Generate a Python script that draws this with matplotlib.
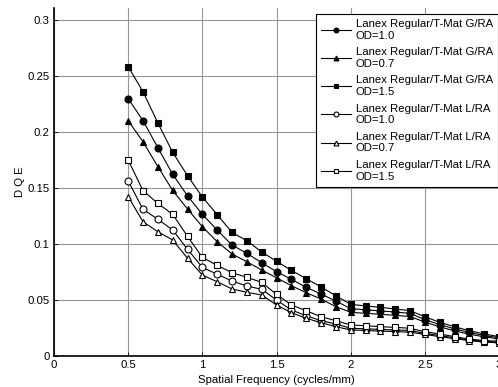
import numpy as np
import matplotlib
matplotlib.use("Agg")
import matplotlib.pyplot as plt

plt.rcParams['font.family'] = ['Liberation Sans', 'DejaVu Sans']

freq = [0.5, 0.6, 0.7, 0.8, 0.9, 1.0, 1.1, 1.2, 1.3, 1.4, 1.5, 1.6, 1.7,
        1.8, 1.9, 2.0, 2.1, 2.2, 2.3, 2.4, 2.5, 2.6, 2.7, 2.8, 2.9, 3.0]

g_od10 = [0.2295, 0.2098, 0.1857, 0.1620, 0.1427, 0.1262, 0.1122, 0.0988, 0.0914,
          0.0830, 0.0750, 0.0682, 0.0611, 0.0551, 0.0488, 0.0420, 0.0410, 0.0400,
          0.0390, 0.0378, 0.0322, 0.0278, 0.0240, 0.0208, 0.0180, 0.0160]
g_od07 = [0.2098, 0.1910, 0.1688, 0.1475, 0.1310, 0.1152, 0.1018, 0.0908, 0.0839,
          0.0765, 0.0696, 0.0625, 0.0563, 0.0506, 0.0438, 0.0388, 0.0378, 0.0370,
          0.0360, 0.0350, 0.0300, 0.0258, 0.0222, 0.0192, 0.0168, 0.0150]
g_od15 = [0.2580, 0.2357, 0.2078, 0.1816, 0.1607, 0.1417, 0.1260, 0.1100, 0.1027,
          0.0926, 0.0843, 0.0762, 0.0688, 0.0614, 0.0535, 0.0459, 0.0444, 0.0432,
          0.0417, 0.0402, 0.0348, 0.0298, 0.0259, 0.0223, 0.0194, 0.0170]
l_od10 = [0.1560, 0.1307, 0.1218, 0.1122, 0.0950, 0.0789, 0.0727, 0.0667, 0.0622,
          0.0593, 0.0497, 0.0408, 0.0357, 0.0313, 0.0283, 0.0245, 0.0240, 0.0235,
          0.0230, 0.0225, 0.0200, 0.0180, 0.0160, 0.0140, 0.0128, 0.0120]
l_od07 = [0.1420, 0.1196, 0.1107, 0.1033, 0.0870, 0.0720, 0.0660, 0.0596, 0.0566,
          0.0542, 0.0453, 0.0384, 0.0334, 0.0295, 0.0259, 0.0230, 0.0225, 0.0220,
          0.0215, 0.0210, 0.0190, 0.0170, 0.0152, 0.0135, 0.0122, 0.0115]
l_od15 = [0.1747, 0.1473, 0.1360, 0.1262, 0.1066, 0.0878, 0.0807, 0.0741, 0.0700,
          0.0655, 0.0548, 0.0453, 0.0402, 0.0348, 0.0313, 0.0274, 0.0268, 0.0259,
          0.0253, 0.0245, 0.0214, 0.0194, 0.0170, 0.0149, 0.0134, 0.0130]

labels = ["Lanex Regular/T-Mat G/RA\nOD=1.0", "Lanex Regular/T-Mat G/RA\nOD=0.7",
          "Lanex Regular/T-Mat G/RA\nOD=1.5", "Lanex Regular/T-Mat L/RA\nOD=1.0",
          "Lanex Regular/T-Mat L/RA\nOD=0.7", "Lanex Regular/T-Mat L/RA\nOD=1.5"]
series = [g_od10, g_od07, g_od15, l_od10, l_od07, l_od15]
markers = ['o', '^', 's', 'o', '^', 's']
filled = [True, True, True, False, False, False]

xticks = [0, 0.5, 1, 1.5, 2, 2.5, 3]
yticks = [0, 0.05, 0.1, 0.15, 0.2, 0.25, 0.3]

fig = plt.figure(figsize=(4.98, 3.87), dpi=100)
ax = fig.add_axes([54/498, 31.3/387, 445/498, 347.7/387])

for y, m, f, lab in zip(series, markers, filled, labels):
    ax.plot(freq, y, color='black', lw=0.8, marker=m, markersize=5,
            markerfacecolor='black' if f else 'white', markeredgecolor='black',
            markeredgewidth=0.8, label=lab)

ax.set_xlim(0, 3)
ax.set_ylim(0, 0.3104)
ax.set_xticks(xticks)
ax.set_xticklabels(['0', '0.5', '1', '1.5', '2', '2.5', '3'])
ax.set_yticks(yticks)
ax.set_yticklabels(['0', '0.05', '0.1', '0.15', '0.2', '0.25', '0.3'])
ax.tick_params(direction='in', length=3, labelsize=8.2, width=0.6, pad=3)
ax.grid(True, color='#959595', lw=0.8)
ax.set_axisbelow(True)
ax.spines['top'].set_visible(False)
ax.spines['right'].set_visible(False)
ax.spines['left'].set_linewidth(1.2)
ax.spines['bottom'].set_linewidth(1.2)

ax.set_xlabel('Spatial Frequency (cycles/mm)', fontsize=8.2, labelpad=4)
ax.set_ylabel('D Q E', fontsize=8.2, labelpad=2)

leg = ax.legend(loc='upper right', bbox_to_anchor=(0.9975, 0.983), fontsize=8.2,
                frameon=True, fancybox=False, edgecolor='black', framealpha=1,
                markerscale=0.7, handlelength=2.6, handletextpad=0.4,
                labelspacing=0.58, borderpad=0.45, borderaxespad=0)
leg.get_frame().set_linewidth(0.8)

fig.savefig('out.png', dpi=100)
